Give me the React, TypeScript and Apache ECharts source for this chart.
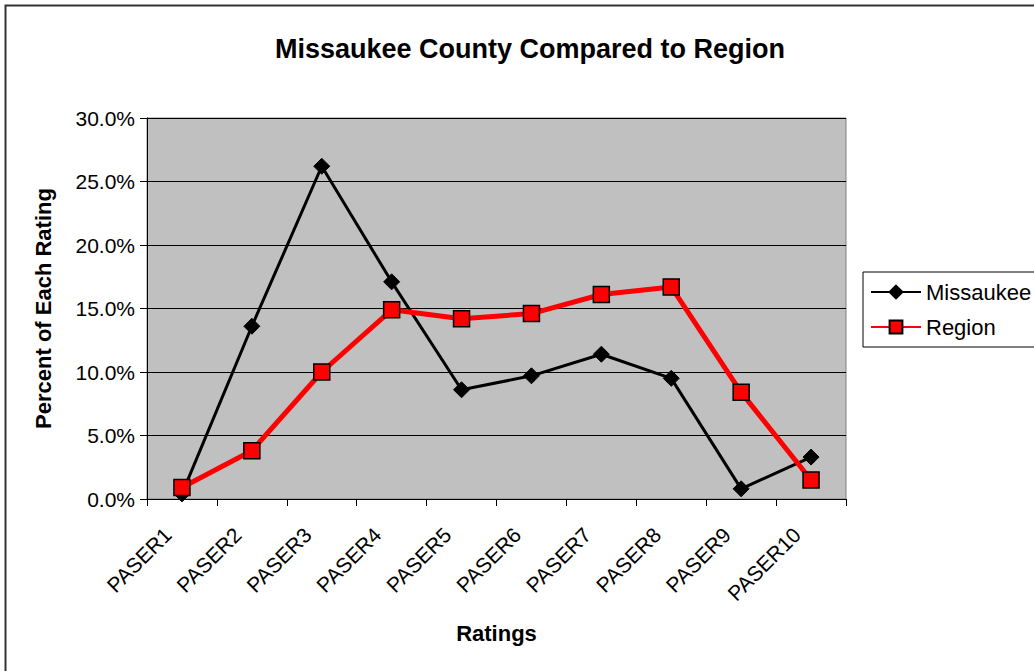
import React, { useEffect, useRef } from "react";
import * as echarts from "echarts";

const categories = ["PASER1", "PASER2", "PASER3", "PASER4", "PASER5", "PASER6", "PASER7", "PASER8", "PASER9", "PASER10"];
const missaukee = [0.004, 0.136, 0.262, 0.171, 0.086, 0.097, 0.114, 0.095, 0.008, 0.033];
const region = [0.009, 0.038, 0.1, 0.149, 0.142, 0.146, 0.161, 0.167, 0.084, 0.015];

export default function App() {
  const ref = useRef<HTMLDivElement>(null);
  useEffect(() => {
    const chart = echarts.init(ref.current!, null, { renderer: "svg" });
    const font = "Liberation Sans, Arial, sans-serif";
    chart.setOption({
      animation: false,
      backgroundColor: "#ffffff",
      textStyle: { fontFamily: font },
      title: {
        text: "Missaukee County Compared to Region",
        left: 525,
        textAlign: "center",
        top: 30,
        textStyle: { fontSize: 27, fontWeight: "bold", color: "#000", fontFamily: font },
      },
      graphic: [
        {
          type: "rect",
          shape: { x: 5.5, y: 5.5, width: 1040, height: 700 },
          style: { fill: "none", stroke: "#333", lineWidth: 2 },
          silent: true,
          z: -1,
        },
      ],
      legend: {
        left: 863,
        top: 272,
        orient: "vertical",
        borderColor: "#000",
        borderWidth: 1,
        padding: [9, 20, 9, 7],
        itemGap: 13,
        itemWidth: 50,
        itemHeight: 16,
        textStyle: { fontSize: 22, color: "#000", fontFamily: font },
        data: ["Missaukee", "Region"],
      },
      grid: {
        left: 147,
        top: 118,
        width: 699,
        height: 381,
        show: true,
        backgroundColor: "#C0C0C0",
        borderColor: "#808080",
        borderWidth: 1,
      },
      xAxis: {
        type: "category",
        data: categories,
        boundaryGap: true,
        name: "Ratings",
        nameLocation: "middle",
        nameGap: 123,
        nameTextStyle: { fontSize: 22, fontWeight: "bold", color: "#000", fontFamily: font },
        axisLine: { lineStyle: { color: "#000", width: 1 } },
        axisTick: { show: true, length: 7, lineStyle: { color: "#000" } },
        axisLabel: { rotate: 45, fontSize: 21, color: "#000", margin: 18, interval: 0, padding: [0, 20, 0, 0], fontFamily: font },
      },
      yAxis: {
        type: "value",
        min: 0,
        max: 0.3,
        interval: 0.05,
        name: "Percent of Each Rating",
        nameLocation: "middle",
        nameGap: 93,
        nameTextStyle: { fontSize: 22, fontWeight: "bold", color: "#000", fontFamily: font },
        axisLine: { show: true, lineStyle: { color: "#000", width: 1 } },
        axisTick: { show: true, length: 7, lineStyle: { color: "#000" } },
        axisLabel: {
          fontSize: 21,
          color: "#000",
          margin: 12,
          fontFamily: font,
          formatter: (v: number) => (v * 100).toFixed(1) + "%",
        },
        splitLine: { show: true, lineStyle: { color: "#000", width: 1 } },
      },
      series: [
        {
          name: "Missaukee",
          type: "line",
          data: missaukee,
          symbol: "diamond",
          symbolSize: 16,
          lineStyle: { color: "#000", width: 3 },
          itemStyle: { color: "#000", borderColor: "#000", borderWidth: 1 },
          z: 2,
        },
        {
          name: "Region",
          type: "line",
          data: region,
          symbol: "rect",
          symbolSize: 16,
          lineStyle: { color: "#ff0000", width: 5 },
          itemStyle: { color: "#ff0000", borderColor: "#000", borderWidth: 1.5 },
          z: 3,
        },
      ],
    });
    return () => chart.dispose();
  }, []);
  return <div ref={ref} style={{ position: "fixed", left: 0, top: 0, width: 1034, height: 671 }} />;
}
